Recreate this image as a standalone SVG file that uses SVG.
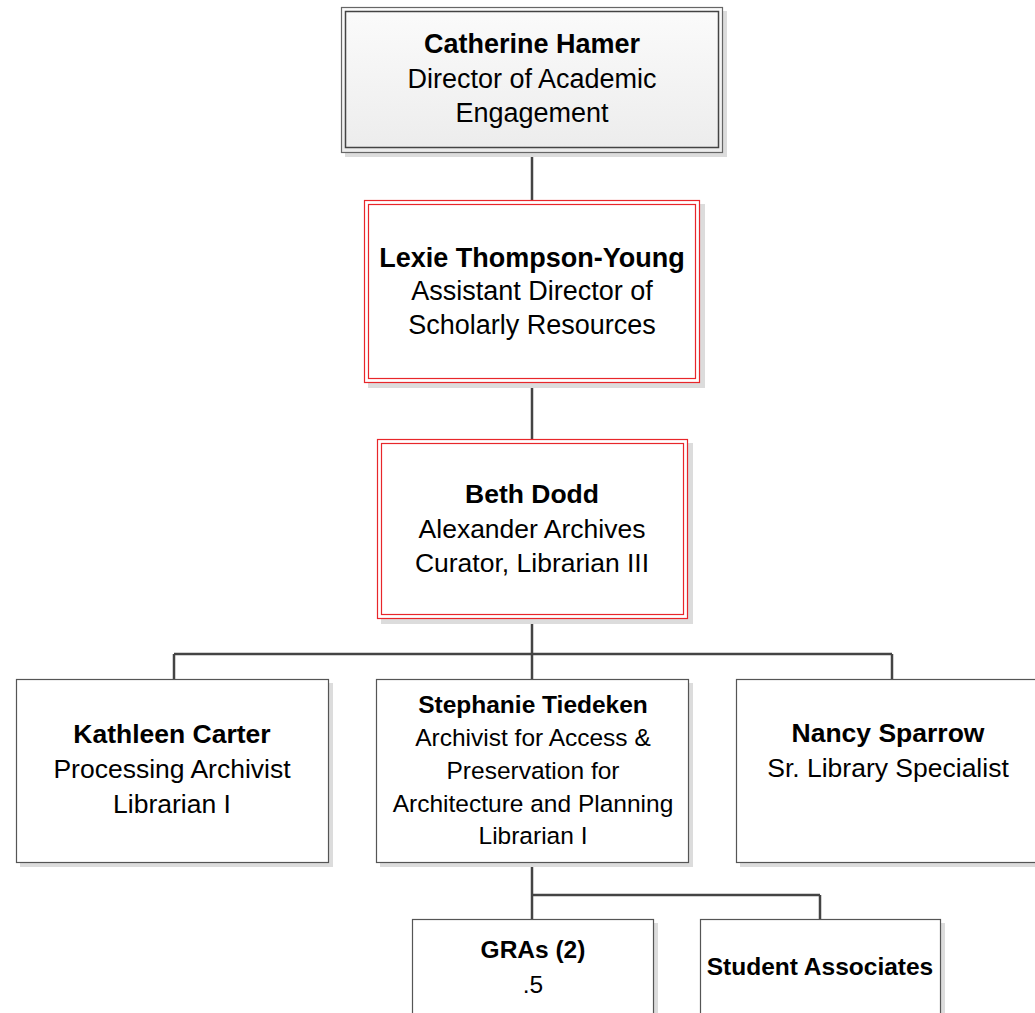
<svg xmlns="http://www.w3.org/2000/svg" width="1035" height="1013" viewBox="0 0 1035 1013">
<defs>
<linearGradient id="g" x1="0" y1="0" x2="0" y2="1">
<stop offset="0" stop-color="#fbfbfb"/>
<stop offset="1" stop-color="#ececec"/>
</linearGradient>
</defs>
<style>
text{font-family:"Liberation Sans",Arial,sans-serif;fill:#000;text-anchor:middle}
.b{font-weight:bold}
.sh{fill:#dcdcdc}
.box{fill:#fff;stroke:#555;stroke-width:1.2}
.red{fill:none;stroke:#e8262a;stroke-width:1.2}
.con{fill:none;stroke:#444;stroke-width:2.5}
.f27{font-size:27px}
.f26{font-size:26.5px}
.f24{font-size:24.5px}
</style>
<rect width="1035" height="1013" fill="#fff"/>
<g id="connectors">
<path class="con" d="M532 153V200M532 383V439M532 619V654M174 654H892M174 654V679M532 654V679M892 654V679"/>
<path class="con" d="M532 863V895M532 895H820M532 895V919M820 895V919"/>
</g>
<g id="catherine">
<rect class="sh" x="345" y="11" width="382" height="146"/>
<rect x="341.5" y="7.5" width="381" height="145" fill="url(#g)" stroke="#666" stroke-width="1.2"/>
<rect x="345.5" y="11.5" width="373" height="136" fill="none" stroke="#444" stroke-width="1.5"/>
<text class="f27 b" x="532" y="53">Catherine Hamer</text>
<text class="f27" x="532" y="88">Director of Academic</text>
<text class="f27" x="532" y="122">Engagement</text>
</g>
<g id="lexie">
<rect class="sh" x="368" y="204" width="337" height="184"/>
<rect x="364.5" y="200.5" width="335" height="182" fill="#fff" stroke="#e8262a" stroke-width="1.2"/>
<rect class="red" x="368.5" y="204.5" width="327" height="174"/>
<text class="f27 b" x="532" y="267">Lexie Thompson-Young</text>
<text class="f27" x="532" y="300">Assistant Director of</text>
<text class="f27" x="532" y="334">Scholarly Resources</text>
</g>
<g id="beth">
<rect class="sh" x="381" y="443" width="312" height="181"/>
<rect x="377.5" y="439.5" width="310" height="179" fill="#fff" stroke="#e8262a" stroke-width="1.2"/>
<rect class="red" x="381.5" y="443.5" width="302" height="171"/>
<text class="f26 b" x="532" y="503">Beth Dodd</text>
<text class="f26" x="532" y="538">Alexander Archives</text>
<text class="f26" x="532" y="572">Curator, Librarian III</text>
</g>
<g id="kathleen">
<rect class="sh" x="20" y="683" width="313" height="184"/>
<rect class="box" x="16.5" y="679.5" width="312" height="183"/>
<text class="f26 b" x="172" y="743">Kathleen Carter</text>
<text class="f26" x="172" y="778">Processing Archivist</text>
<text class="f26" x="172" y="813">Librarian I</text>
</g>
<g id="stephanie">
<rect class="sh" x="380" y="683" width="313" height="184"/>
<rect class="box" x="376.5" y="679.5" width="312" height="183"/>
<text class="f24 b" x="533" y="713">Stephanie Tiedeken</text>
<text class="f24" x="533" y="746">Archivist for Access &amp;</text>
<text class="f24" x="533" y="779">Preservation for</text>
<text class="f24" x="533" y="812">Architecture and Planning</text>
<text class="f24" x="533" y="844">Librarian I</text>
</g>
<g id="nancy">
<rect class="sh" x="740" y="683" width="313" height="184"/>
<rect class="box" x="736.5" y="679.5" width="312" height="183"/>
<text class="f26 b" x="888" y="742">Nancy Sparrow</text>
<text class="f26" x="888" y="777">Sr. Library Specialist</text>
</g>
<g id="gras">
<rect class="sh" x="417" y="923" width="241" height="100"/>
<rect class="box" x="412.5" y="919.5" width="241" height="100"/>
<text class="f24 b" x="533" y="958">GRAs (2)</text>
<text class="f24" x="533" y="993">.5</text>
</g>
<g id="students">
<rect class="sh" x="704" y="923" width="241" height="100"/>
<rect class="box" x="700.5" y="919.5" width="240" height="100"/>
<text class="f24 b" x="820" y="975">Student Associates</text>
</g>
</svg>
